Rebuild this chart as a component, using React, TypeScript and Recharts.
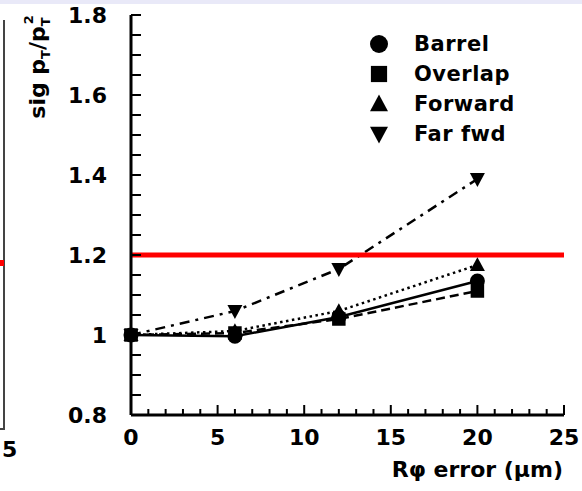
import React from "react";
import {
  LineChart,
  Line,
  XAxis,
  YAxis,
  Legend,
  ReferenceLine,
} from "recharts";

// R-phi error (um) at which each point was computed
const xValues = [0, 6, 12, 20];

// sig pT / pT^2, relative to zero misalignment
const barrel = [1.0, 0.997, 1.045, 1.135];
const overlap = [1.0, 1.005, 1.04, 1.11];
const forward = [1.0, 1.01, 1.06, 1.175];
const farFwd = [1.0, 1.06, 1.165, 1.39];

const limit = 1.2;

const xLabelTicks = [0, 5, 10, 15, 20, 25];
const yLabelTicks = [0.8, 1, 1.2, 1.4, 1.6, 1.8];
const xTicks = Array.from({ length: 26 }, (_, i) => i);
const yTicks = Array.from({ length: 21 }, (_, i) => Math.round((0.8 + i * 0.05) * 100) / 100);

const data = xValues.map((x, i) => ({
  x,
  barrel: barrel[i],
  overlap: overlap[i],
  forward: forward[i],
  farFwd: farFwd[i],
}));

const series = [
  { key: "barrel", name: "Barrel", shape: "circle", dash: undefined },
  { key: "overlap", name: "Overlap", shape: "square", dash: "9 5" },
  { key: "forward", name: "Forward", shape: "up", dash: "2.5 3.5" },
  { key: "farFwd", name: "Far fwd", shape: "down", dash: "10 6 3 6" },
];

const FONT = "'DejaVu Sans', sans-serif";

function Marker({ shape, cx, cy, size }: any) {
  if (cx == null || cy == null) return null;
  const h = size / 2;
  if (shape === "circle") return <circle cx={cx} cy={cy} r={h} fill="#000" />;
  if (shape === "square")
    return <rect x={cx - h * 0.9} y={cy - h * 0.9} width={size * 0.9} height={size * 0.9} fill="#000" />;
  if (shape === "up")
    return (
      <polygon
        points={`${cx},${cy - h * 1.05} ${cx - h},${cy + h * 0.8} ${cx + h},${cy + h * 0.8}`}
        fill="#000"
      />
    );
  return (
    <polygon
      points={`${cx},${cy + h * 1.05} ${cx - h},${cy - h * 0.8} ${cx + h},${cy - h * 0.8}`}
      fill="#000"
    />
  );
}

function XTick({ x, y, payload }: any) {
  const v = payload.value;
  const major = xLabelTicks.includes(v);
  return (
    <g>
      <line x1={x} x2={x} y1={y} y2={y - (major ? 10 : 6)} stroke="#000" strokeWidth={2} />
      {major && (
        <text x={x} y={y + 30} textAnchor="middle" fontSize={22} fontWeight="bold" fontFamily={FONT} fill="#000">
          {v}
        </text>
      )}
    </g>
  );
}

function YTick({ x, y, payload }: any) {
  const v = payload.value;
  const major = yLabelTicks.some((t) => Math.abs(t - v) < 1e-6);
  return (
    <g>
      <line x1={x} x2={x + 10} y1={y} y2={y} stroke="#000" strokeWidth={2} />
      {major && (
        <text x={x - 24} y={y + 8} textAnchor="end" fontSize={22} fontWeight="bold" fontFamily={FONT} fill="#000">
          {String(Math.round(v * 10) / 10)}
        </text>
      )}
    </g>
  );
}

function LegendBox() {
  return (
    <div style={{ fontFamily: FONT }}>
      {series.map((s) => (
        <div key={s.key} style={{ display: "flex", alignItems: "center", height: 30 }}>
          <svg width={22} height={22}>
            <Marker shape={s.shape} cx={11} cy={11} size={18} />
          </svg>
          <span style={{ marginLeft: 24, fontSize: 21, fontWeight: "bold", letterSpacing: 0.5, color: "#000" }}>
            {s.name}
          </span>
        </div>
      ))}
    </div>
  );
}

export default function App() {
  return (
    <div style={{ position: "absolute", left: 0, top: 0, width: 582, height: 491, background: "#fff", overflow: "hidden" }}>
      {/* bits of the neighbouring slide content */}
      <div style={{ position: "absolute", left: 0, top: 0, width: 582, height: 4, background: "#e9e9f8" }} />
      <div
        style={{
          position: "absolute",
          left: 0,
          top: 20,
          width: 3,
          height: 408,
          borderRight: "2px solid #444",
          borderBottom: "2px solid #444",
        }}
      />
      <div style={{ position: "absolute", left: 0, top: 260, width: 4, height: 6, background: "#f00" }} />
      <div style={{ position: "absolute", left: 2, top: 437, fontFamily: FONT, fontWeight: "bold", fontSize: 22 }}>5</div>

      <LineChart width={582} height={491} data={data} margin={{ top: 15, right: 18, bottom: 0, left: 0 }}>
        <XAxis
          dataKey="x"
          type="number"
          domain={[0, 25]}
          ticks={xTicks}
          interval={0}
          tick={<XTick />}
          tickLine={false}
          tickSize={0}
          tickMargin={0}
          height={76}
          axisLine={{ stroke: "#000", strokeWidth: 3 }}
          label={{
            content: ({ viewBox }: any) => (
              <text
                x={viewBox.x + viewBox.width - 1}
                y={viewBox.y + 62}
                textAnchor="end"
                fontSize={22}
                fontWeight="bold"
                fontFamily={FONT}
                fill="#000"
              >
                Rφ error (μm)
              </text>
            ),
          }}
        />
        <XAxis
          xAxisId="top"
          orientation="top"
          dataKey="x"
          type="number"
          domain={[0, 25]}
          height={0}
          tick={false}
          tickLine={false}
          axisLine={{ stroke: "#000", strokeWidth: 3 }}
        />
        <YAxis
          type="number"
          domain={[0.8, 1.8]}
          ticks={yTicks}
          interval={0}
          tick={<YTick />}
          tickLine={false}
          tickSize={0}
          tickMargin={0}
          width={131}
          axisLine={{ stroke: "#000", strokeWidth: 3 }}
          label={{
            content: () => (
              <text
                transform="translate(45, 67) rotate(-90)"
                textAnchor="middle"
                fontSize={22}
                fontWeight="bold"
                fontFamily={FONT}
                fill="#000"
              >
                sig p
                <tspan fontSize={13} dy={5}>T</tspan>
                <tspan dy={-5}>/p</tspan>
                <tspan fontSize={13} dy={5}>T</tspan>
                <tspan fontSize={13} dx={-7} dy={-17}>2</tspan>
              </text>
            ),
          }}
        />
        <YAxis
          yAxisId="right"
          orientation="right"
          type="number"
          domain={[0.8, 1.8]}
          width={0}
          tick={false}
          tickLine={false}
          axisLine={{ stroke: "#000", strokeWidth: 3 }}
        />
        <Legend
          layout="vertical"
          align="center"
          verticalAlign="middle"
          wrapperStyle={{ top: 29, left: 368, width: 170, height: 120 }}
          content={() => <LegendBox />}
        />
        {series.map((s) => (
          <Line
            key={s.key}
            dataKey={s.key}
            name={s.name}
            type="linear"
            stroke="#000"
            strokeWidth={2.5}
            strokeDasharray={s.dash}
            isAnimationActive={false}
            dot={(p: any) => <Marker key={`${s.key}-${p.index}`} shape={s.shape} cx={p.cx} cy={p.cy} size={15} />}
            activeDot={false}
          />
        ))}
        <ReferenceLine y={limit} stroke="#ff0000" strokeWidth={5} />
      </LineChart>
    </div>
  );
}
